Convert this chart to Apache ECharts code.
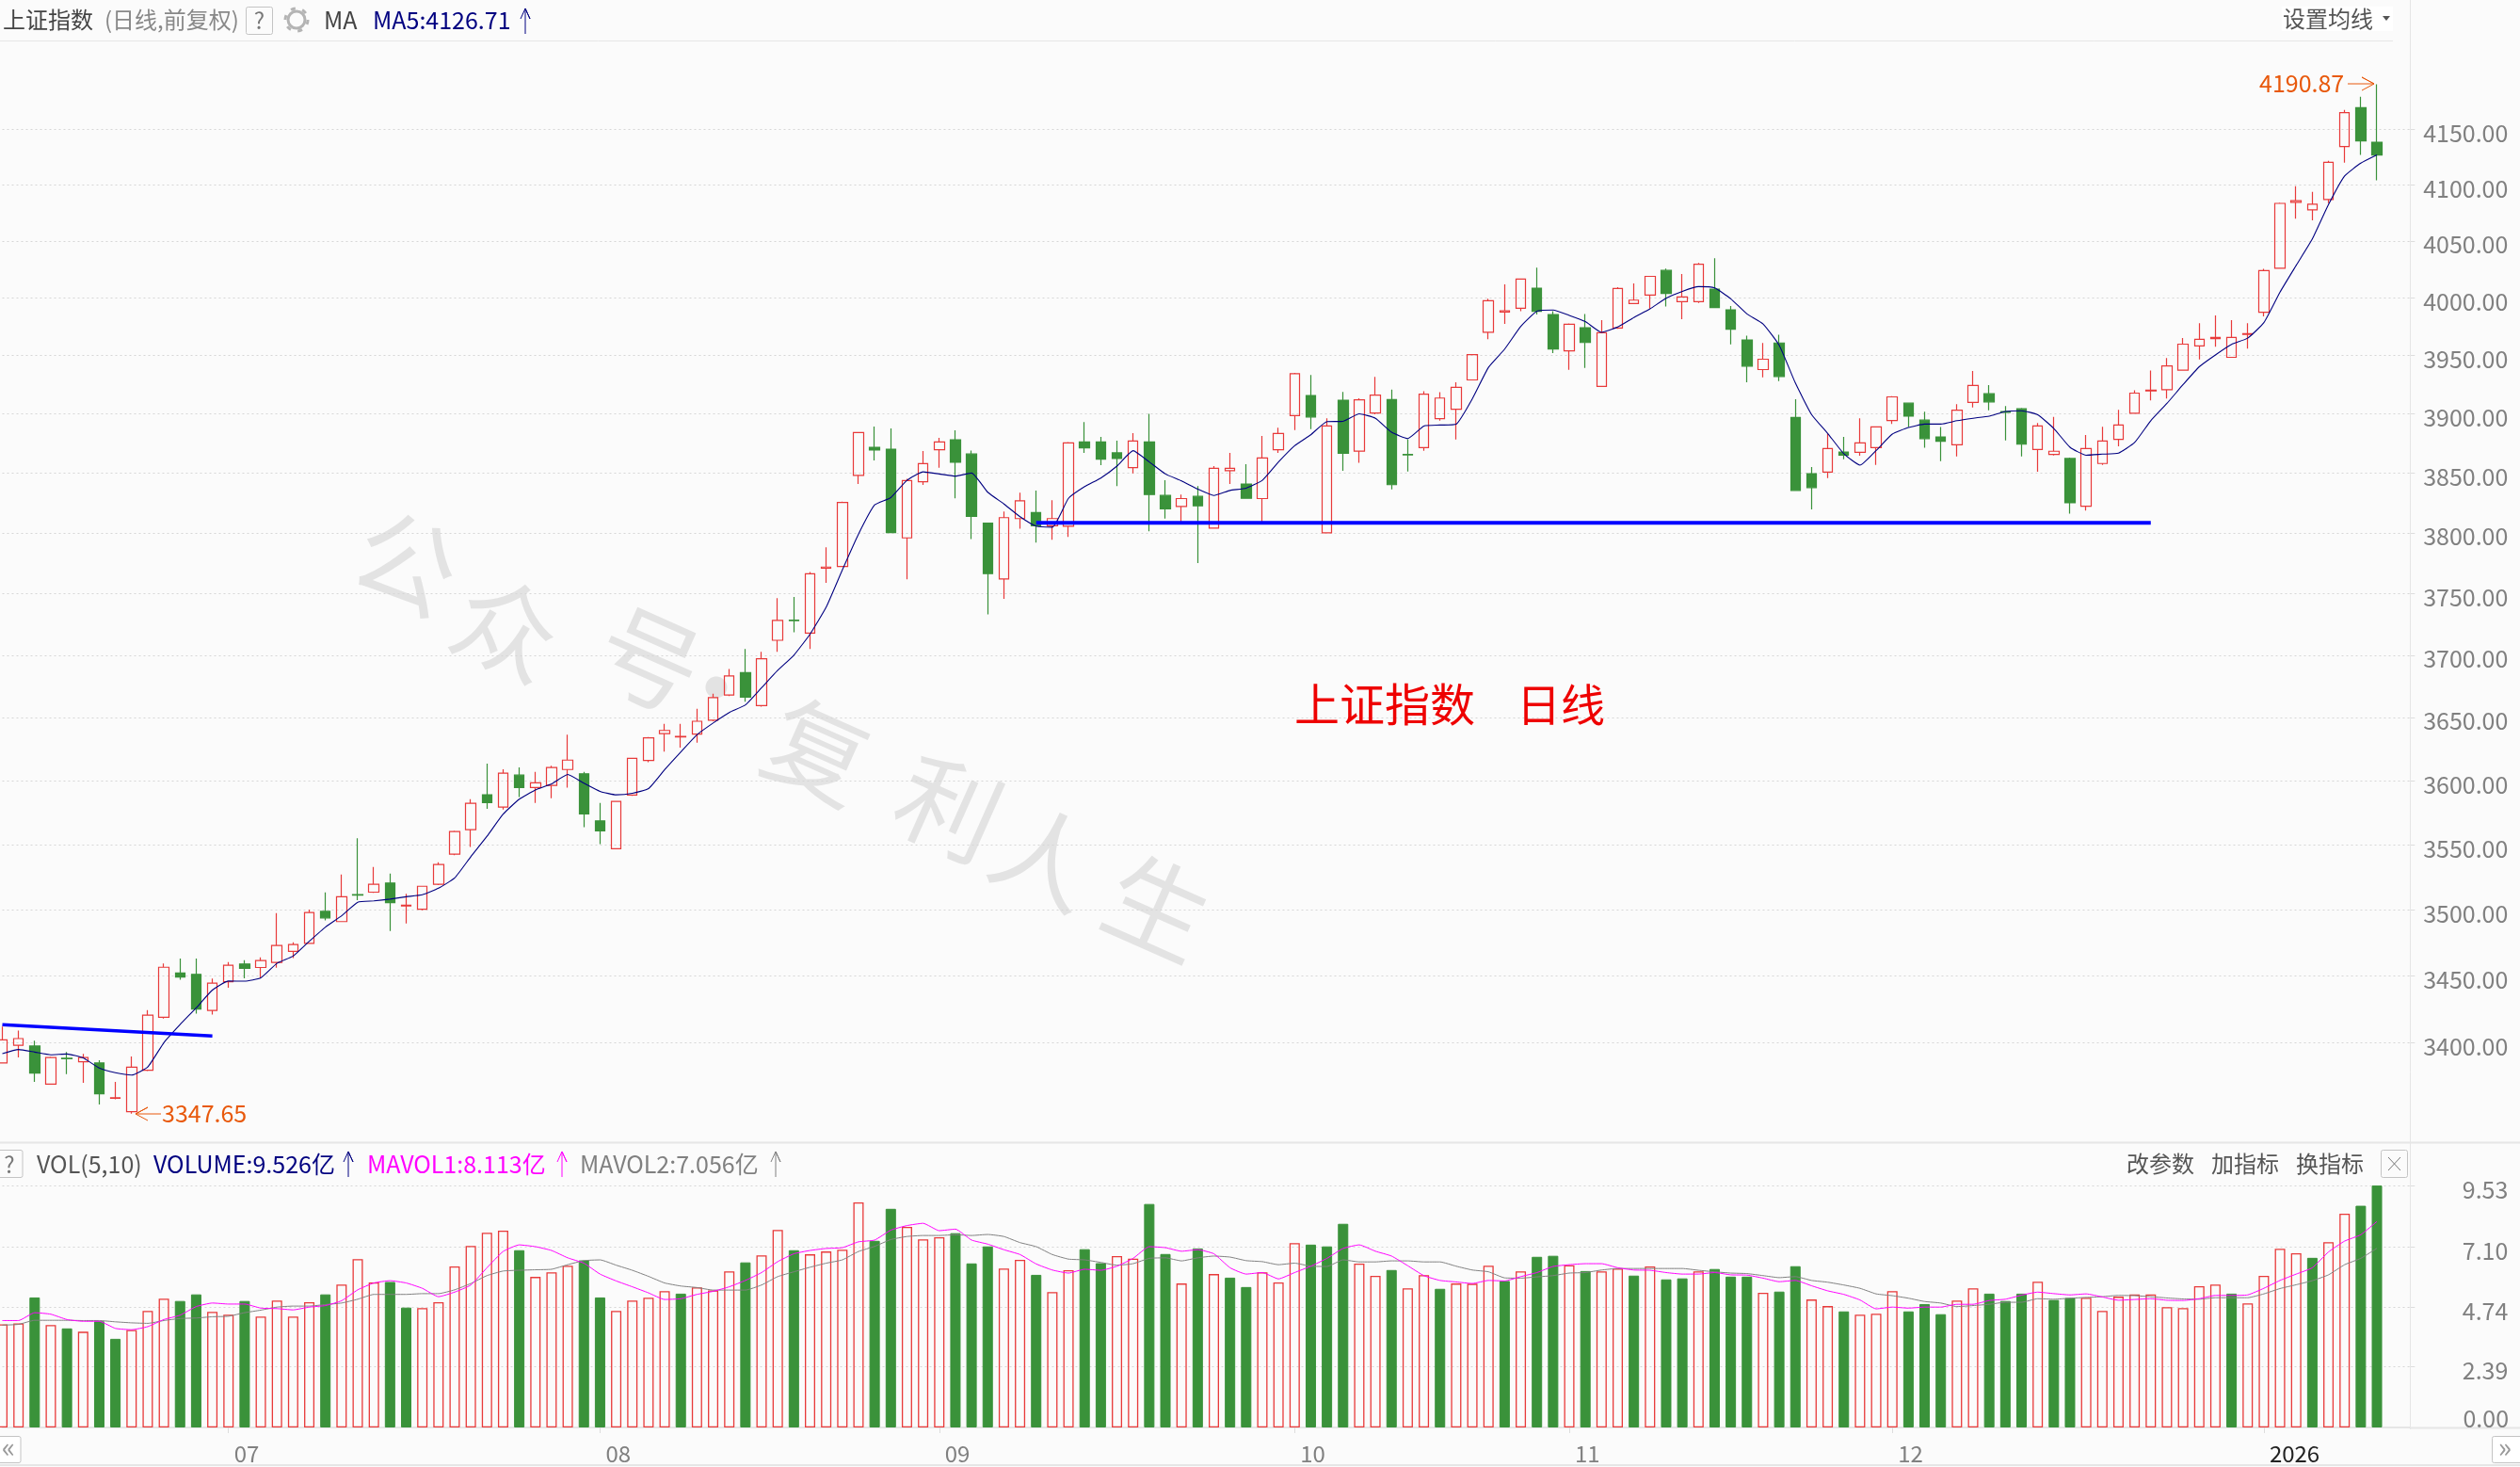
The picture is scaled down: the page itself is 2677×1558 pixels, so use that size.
<!DOCTYPE html>
<html>
<head>
<meta charset="utf-8" />
<title>上证指数 日线</title>
<script src="https://cdn.jsdelivr.net/npm/echarts@6/dist/echarts.min.js"></script>
<style>
html, body { margin: 0; padding: 0; background: #fbfbfb; overflow: hidden; }
#main { width: 2677px; height: 1558px; }
</style>
</head>
<body>
<div id="main"></div>
<script type="text/javascript">
// values, one entry per trading day
var openPrice = [
3385,3398,3397.5,3369.4,3388.4,3385.8,3384.9,3359,3349.2,3379.6,
3418.8,3452,3451,3424,3445.5,3458.8,3456.2,3460,3468.4,3474.5,
3498.8,3491,3511.6,3513.5,3520.5,3503,3500.5,3519.5,3542.7,3561.8,
3589,3579.4,3604.4,3594.6,3596.3,3608.8,3605.4,3568.6,3547,3588.7,
3615.9,3637.2,3634.5,3636.8,3647.8,3667.9,3685.9,3659.5,3712,3728.4,
3717.9,3770.8,3772.3,3848,3871.7,3870.1,3795.9,3842.6,3869.6,3878,
3866,3808.2,3762,3811.9,3816.9,3806,3805.5,3876.2,3876.2,3867,
3854.5,3876.2,3831.2,3822,3830.4,3804,3852,3840.7,3828.6,3869.6,
3898.5,3915.6,3800,3911.6,3868.4,3900.8,3912.2,3865.6,3871.4,3896,
3904,3929,3970,3987.7,3991,4008.5,3985.5,3954,3974,3923.5,
3973.8,3995,4002.5,4024,3996.7,3996.7,4007.6,3989.6,3963.4,3937.9,
3960.8,3897,3849.5,3850.8,3867.7,3867.4,3871.4,3894.4,3909.1,3894.7,
3880.4,3873.8,3909.7,3917.2,3901.9,3904.3,3869.8,3865.6,3862.2,3822.2,
3858,3878.3,3900.5,3919.6,3920.7,3937.4,3958.2,3964.5,3948.4,3968.3,
3987.4,4026,4084.2,4077.5,4086.7,4134.3,4169.4,4138.2];
var closePrice = [
3402,3403,3377.5,3389,3388,3388.9,3362.2,3359.4,3381.9,3420.4,
3456.4,3449,3425,3444.4,3457.9,3455.5,3461.4,3472.9,3473.6,3497.9,
3493.8,3510,3511.2,3519.5,3505.5,3503.5,3518,3534.7,3560.3,3582.3,
3582.8,3605.9,3594.6,3598.3,3610.3,3616.2,3574,3560.8,3583.8,3617.6,
3633.8,3639.7,3635,3647,3665.9,3683.3,3666.2,3697,3728.2,3728,
3766.2,3771.8,3825.4,3884.1,3869.3,3800.3,3843.6,3857.9,3876.2,3859,
3813.8,3766.4,3812.7,3826.7,3806,3811.9,3875.4,3871.2,3861.6,3862.2,
3877,3832,3820,3828.6,3822.5,3854,3854,3828.8,3862.7,3883.3,
3934.4,3897.4,3889.7,3866.6,3912,3916,3840.2,3865.3,3916.8,3913.5,
3922.6,3950.8,3997.5,3988.8,4016.4,3988.3,3955.6,3977,3961.2,3969.7,
4008.2,3998,4018.8,4003.8,4000.8,4029.5,3991.5,3972.8,3940.9,3946.8,
3932,3835.4,3837.8,3870.6,3865,3875.4,3888.9,3914.5,3898.1,3879,
3876.7,3903.2,3924.2,3910.2,3901.4,3874.3,3889.7,3868.3,3825.1,3870.6,
3877,3890.5,3917.7,3920.2,3941.1,3959.8,3964,3965.6,3965.6,3968.9,
4023.8,4083.3,4085.8,4082.5,4120,4164.9,4139.3,4126.7];
var lowPrice = [
3385,3389,3371,3369,3376.8,3370.3,3354.5,3358.2,3347.65,3379,
3417.9,3447,3421.6,3420.9,3441,3448,3448.4,3456,3463.3,3474,
3491.9,3490.9,3507.4,3513,3483.8,3489.6,3499.7,3519,3542,3548.3,
3578,3577.4,3587.2,3582.6,3586.3,3594.6,3563.7,3550.5,3547,3588,
3614.5,3622.9,3626,3629.9,3647,3667,3662.6,3658.7,3702.6,3718.5,
3705,3758.8,3772,3840.7,3860.6,3800,3761.8,3840,3854.5,3828.8,
3794.9,3733,3745.8,3803.4,3792,3794.4,3796.7,3866.9,3856.6,3839,
3849.7,3801.3,3812,3808,3775,3804,3840.7,3828.5,3808,3866.9,
3886.2,3887,3800,3851.9,3858.6,3899.7,3836.2,3851.3,3868.8,3894.2,
3878.3,3929,3964,3977.3,3988.3,3985.5,3952,3937.6,3939.3,3923,
3973,3994.8,3990.7,3992.4,3981.4,3995.6,3991.2,3959.6,3927,3931.2,
3928,3835,3819.6,3845.8,3861.6,3864.5,3856.9,3891.5,3888.9,3871.3,
3860,3864,3905.4,3903,3877.5,3864,3851,3864.8,3816,3818.5,
3856.9,3872.5,3900.3,3911.5,3913,3936.8,3946.5,3957.6,3948,3956,
3983.9,4026,4069.7,4068.3,4083.6,4119.7,4126.7,4104];
var highPrice = [
3412,3409,3401.4,3389.6,3393,3391.6,3387,3371,3389.8,3424.2,
3459.3,3463,3463,3447.9,3460.3,3461.7,3463.8,3497.4,3475.3,3500.2,
3513.3,3527,3555,3532.8,3527.7,3512.2,3518,3536.4,3561,3585.5,
3613.5,3609,3610.5,3606.9,3611.8,3636.3,3606.9,3582.6,3584,3618,
3634.5,3645,3645,3657,3669,3688.9,3705,3702.6,3746.2,3747.2,
3767.7,3788,3826,3884.5,3889.2,3887.6,3845.2,3868.5,3879.6,3886,
3869,3808.2,3817.7,3833.6,3835.2,3827.2,3876,3893,3880.4,3877.2,
3883.6,3900,3843.9,3832,3839,3855.8,3867,3857.4,3881.2,3888.3,
3935,3933.3,3896.3,3918.8,3913.2,3931.6,3920.8,3878.4,3919.4,3918.6,
3926.9,3951,3999.2,4011.7,4017,4026.5,3988.3,3977.8,3986,3980.6,
4009.3,4012.6,4019,4025.7,4020.8,4030.6,4034.7,3992.9,3967.2,3960.8,
3968,3912.4,3855,3883,3880.4,3896.3,3889,3915,3909.5,3901.9,
3888.9,3908.3,3936.6,3924.5,3906.7,3905,3892.3,3897.4,3863,3882,
3889,3903.5,3920.2,3937,3947.8,3965,3978,3984.7,3980.6,3978,
4025.4,4084,4098.6,4093.6,4121.4,4167.4,4179.5,4190.87];
var ma5 = [
3391.8,3394.9,3393,3391,3391.6,3388.7,3381.2,3377.7,3376,3382,
3400,3413.4,3425.9,3439.2,3446,3445.9,3448.4,3459.3,3464.8,3476,
3486.8,3495.4,3505.8,3506.8,3508.2,3510,3511.5,3516.5,3524.4,3540.8,
3556.6,3573.8,3585.5,3592.7,3597.5,3604.9,3598,3591.6,3588.9,3590.1,
3593.8,3608.7,3622.7,3636.3,3645.6,3654,3660,3673.8,3687.7,3700,
3717,3738.9,3769.4,3799,3823.3,3829.4,3843.9,3851,3849.2,3847.4,
3850,3833.9,3824.1,3813.5,3805.6,3804.8,3828.8,3838.6,3845.8,3855.8,
3868.8,3859.3,3849.2,3843.4,3836.5,3831.2,3835.4,3837.3,3843.9,3859.3,
3873,3882.3,3893.4,3893.7,3900,3896.3,3884.4,3879.1,3889.7,3890.5,
3891.3,3912.9,3939.8,3955.5,3975.1,3988.3,3989.4,3984.7,3979.3,3970,
3974.6,3982.8,3990.4,3999.7,4005.7,4009.8,4008.7,3999.2,3986,3977.3,
3958.8,3926.3,3899.5,3883.4,3866.2,3856.6,3869,3882.8,3888.4,3891.3,
3891.3,3894.2,3896.3,3898.1,3902.1,3902.7,3899.2,3887.6,3871.7,3865,
3865.9,3866.7,3875.7,3894.2,3908.9,3925,3940.3,3950.5,3959.6,3965,
3978.4,4005,4028.4,4051.7,4082.2,4107.8,4119.3,4126.71];
var volume = [
4.06,4.1,5.12,4.03,3.9,3.77,4.18,3.49,3.84,4.59,
5.07,4.98,5.24,4.55,4.44,4.98,4.37,5,4.37,4.93,
5.24,5.63,6.63,5.71,5.73,4.72,4.7,4.93,6.34,7.15,
7.67,7.75,6.98,5.93,6.11,6.37,6.58,5.12,4.59,5,
5.11,5.37,5.27,5.52,5.4,6.15,6.5,6.78,7.78,6.98,
6.82,6.93,7,8.86,7.35,8.61,7.9,7.41,7.49,7.65,
6.46,7.13,6.26,6.6,6.01,5.33,6.19,7.02,6.47,6.75,
6.65,8.8,6.83,5.67,7.05,6.04,5.9,5.53,6.11,5.71,
7.26,7.2,7.13,8.02,6.45,5.97,6.2,5.48,6,5.46,
5.67,5.66,6.37,5.77,6.15,6.72,6.76,6.39,6.16,6.15,
6.26,5.98,6.34,5.83,5.87,6.15,6.24,5.94,5.94,5.3,
5.35,6.35,5.04,4.78,4.57,4.44,4.48,5.37,4.57,4.86,
4.46,5,5.48,5.27,4.98,5.27,5.74,5.02,5.1,5.11,
4.59,5.15,5.24,5.24,4.74,4.7,5.56,5.63,5.27,4.89,
5.97,7.04,6.86,6.68,7.3,8.42,8.73,9.526];
var downVolumeDays = [2,4,6,7,11,12,15,20,24,25,32,36,37,42,46,49,54,55,59,60,61,64,67,68,71,72,74,76,77,
81,82,83,86,89,93,95,96,98,101,103,104,106,107,108,110,111,114,118,119,120,123,124,125,127,128,138,143,146,147];
var mavol1 = [
4.21,4.21,4.52,4.46,4.25,4.18,4.18,3.9,3.85,3.97,
4.25,4.42,4.76,4.9,4.86,4.86,4.7,4.68,4.63,4.74,
4.8,4.99,5.42,5.69,5.78,5.69,5.48,5.15,5.33,5.61,
6.29,6.93,7.19,7.12,6.97,6.68,6.47,6.04,5.77,5.54,
5.3,5.04,5.07,5.24,5.36,5.54,5.79,6.1,6.53,6.84,
6.97,7.05,7.08,7.31,7.38,7.77,7.95,8.04,7.75,7.81,
7.38,7.22,7,6.81,6.44,6.2,6.08,6.23,6.19,6.35,
6.66,7.12,7.08,6.94,7,6.84,6.29,6.04,6.1,5.85,
6.1,6.35,6.66,7.05,7.19,6.94,6.75,6.37,5.98,5.79,
5.73,5.67,5.79,5.77,5.94,6.1,6.34,6.41,6.45,6.45,
6.29,6.2,6.19,6.1,6.04,6.04,6.1,6.01,6,5.88,
5.74,5.79,5.58,5.38,5.24,5.02,4.67,4.74,4.7,4.74,
4.74,4.85,4.85,5,5.05,5.21,5.33,5.27,5.22,5.26,
5.14,5.01,5.04,5.07,5.01,5,5.07,5.2,5.2,5.22,
5.48,5.79,6.04,6.29,6.91,7.34,7.59,8.113];
var mavol2 = [
4.03,4.06,4.22,4.22,4.22,4.21,4.21,4.16,4.12,4.1,
4.21,4.29,4.31,4.36,4.38,4.52,4.62,4.74,4.78,4.78,
4.84,4.9,5.05,5.24,5.24,5.24,5.27,5.27,5.42,5.67,
5.98,6.16,6.19,6.21,6.23,6.41,6.57,6.6,6.39,6.19,
5.95,5.69,5.57,5.51,5.41,5.41,5.41,5.61,5.94,6.13,
6.31,6.47,6.6,6.93,7.13,7.4,7.52,7.56,7.56,7.59,
7.56,7.6,7.52,7.28,7.12,6.81,6.63,6.6,6.5,6.39,
6.45,6.66,6.68,6.56,6.68,6.75,6.71,6.57,6.53,6.41,
6.47,6.35,6.34,6.6,6.52,6.52,6.56,6.56,6.52,6.52,
6.35,6.2,6.13,5.89,5.88,5.93,5.98,6.08,6.1,6.2,
6.26,6.26,6.26,6.26,6.26,6.19,6.13,6.08,6.06,5.98,
5.9,5.94,5.79,5.72,5.61,5.48,5.26,5.19,5.09,4.96,
4.9,4.76,4.8,4.85,4.93,4.93,5.07,5.05,5.09,5.12,
5.15,5.2,5.19,5.15,5.1,5.06,5.05,5.11,5.11,5.11,
5.26,5.47,5.62,5.78,6.01,6.41,6.66,7.056];
var priceTicks = [3400,3450,3500,3550,3600,3650,3700,3750,3800,3850,3900,3950,4000,4050,4100,4150];
var volumeTicks = [0,2.39,4.74,7.10,9.53];
var volumeLabels = [2.39,4.74,7.10,9.53];
var monthTicks = {14:'07',37:'08',58:'09',80:'10',97:'11',117:'12',140:'2026'};
var trendLeft = [[0,3413.3],[13,3405]];
var supportLine = [[64,3808.4],[133,3808.4]];

var FONT = '"Noto Sans CJK SC", "Noto Sans", sans-serif';
var RED = '#e83a3a', GREEN = '#3a923a', NAVY = '#000080';

// two empty days on the right so the plot reaches the price axis
var days = [];
for (var d = 0; d < 150; d++) days.push(String(d));

var candles = openPrice.map(function (o, i) {
	return [o, closePrice[i], lowPrice[i], highPrice[i]];
});
var volumeBars = volume.map(function (v, i) {
	var down = downVolumeDays.indexOf(i) >= 0;
	return {
		value: v,
		itemStyle: down
			? { color: GREEN, borderColor: GREEN, borderWidth: 1 }
			: { color: 'transparent', borderColor: RED, borderWidth: 1.3 }
	};
});

function label(text, x, y, color, size, align) {
	return {
		type: 'text', x: x, y: y, z: 50,
		style: {
			text: text, fill: color, fontSize: size || 24, fontFamily: FONT,
			align: align || 'left', verticalAlign: 'middle'
		}
	};
}
function rule(x1, y1, x2, y2, color, width) {
	return {
		type: 'line', z: 40,
		shape: { x1: x1, y1: y1, x2: x2, y2: y2 },
		style: { stroke: color || '#e6e6e6', lineWidth: width || 1 }
	};
}
function frame(x, y, w, h, fill) {
	return {
		type: 'rect', z: 41,
		shape: { x: x, y: y, width: w, height: h, r: 2 },
		style: { fill: fill || 'transparent', stroke: '#c4c4c4', lineWidth: 1 }
	};
}
function upArrow(x, y1, y2, color) {
	return {
		type: 'polyline', z: 50,
		shape: { points: [[x - 5, y1 + 11], [x, y1], [x + 5, y1 + 11], [x, y1], [x, y2]] },
		style: { stroke: color, lineWidth: 1, fill: null }
	};
}
function sideArrow(x1, x2, y, color) {
	var s = x2 > x1 ? -1 : 1;
	return {
		type: 'polyline', z: 50,
		shape: { points: [[x1, y], [x2, y], [x2 + s * 13, y - 7], [x2, y], [x2 + s * 13, y + 7]] },
		style: { stroke: color, lineWidth: 1, fill: null }
	};
}
function stamp(ch, x, y) {
	return {
		type: 'text', x: x, y: y, z: -1, rotation: -24 * Math.PI / 180,
		style: {
			text: ch, fill: '#e3e3e3', fontSize: 108, fontFamily: FONT,
			align: 'center', verticalAlign: 'middle'
		}
	};
}

var graphics = [
	// watermark
	stamp('公', 432, 597), stamp('众', 538, 667), stamp('号', 690, 700), stamp('·', 761, 730),
	stamp('复', 869, 798), stamp('利', 1008, 858), stamp('人', 1110, 910), stamp('生', 1230, 964),
	// panel rules
	rule(0, 43.5, 2542, 43.5), rule(0, 1213.5, 2677, 1213.5, '#e6e6e6', 2),
	rule(2560.5, 0, 2560.5, 1518), rule(2561, 1516.5, 2677, 1516.5, '#e6e6e6', 2),
	rule(0, 1556, 2677, 1556, '#e6e6e6', 2),
	// header
	label('上证指数', 3, 21, '#444444'),
	label('(日线,前复权)', 111, 21, '#888888'),
	frame(261.5, 7.5, 28, 29),
	label('?', 275.5, 22, '#777777', 24, 'center'),
	{ type: 'circle', z: 41, shape: { cx: 315, cy: 21, r: 9 }, style: { fill: 'transparent', stroke: '#b4b4b4', lineWidth: 3 } },
	{ type: 'circle', z: 41, shape: { cx: 315, cy: 21, r: 12 }, style: { fill: 'transparent', stroke: '#b4b4b4', lineWidth: 3, lineDash: [5, 7.5] } },
	label('MA', 344, 21, '#444444', 25),
	label('MA5:4126.71', 396, 21, NAVY, 25),
	upArrow(558, 9, 36, NAVY),
	{ type: 'rect', z: 39, shape: { x: 2424, y: 7, width: 118, height: 26 }, style: { fill: '#ffffff' } },
	label('设置均线', 2425, 20, '#555555'),
	{ type: 'polygon', z: 50, shape: { points: [[2531, 17], [2539, 17], [2535, 22]] }, style: { fill: '#555555' } },
	// high and low
	label('4190.87', 2400, 88, '#e8590c', 25),
	sideArrow(2494, 2522, 89, '#e8590c'),
	label('3347.65', 172, 1182, '#e8590c', 25),
	sideArrow(171, 144, 1183, '#e8590c'),
	// note
	label('上证指数', 1375, 748, '#ee0000', 48),
	label('日线', 1611, 748, '#ee0000', 47),
	// volume header
	frame(-2, 1221.5, 26, 29),
	label('?', 10, 1237, '#777777', 24, 'center'),
	label('VOL(5,10)', 39, 1236, '#555555', 25),
	label('VOLUME:9.526亿', 163, 1236, NAVY, 25),
	upArrow(370, 1223, 1250, NAVY),
	label('MAVOL1:8.113亿', 390, 1236, '#ff00ff', 25),
	upArrow(597, 1223, 1250, '#ff00ff'),
	label('MAVOL2:7.056亿', 616, 1236, '#808080', 25),
	upArrow(824, 1223, 1250, '#808080'),
	label('改参数', 2259, 1236, '#555555'),
	label('加指标', 2349, 1236, '#555555'),
	label('换指标', 2439, 1236, '#555555'),
	frame(2529.5, 1221.5, 28, 29),
	rule(2537, 1229, 2550, 1243, '#777777'),
	rule(2550, 1229, 2537, 1243, '#777777'),
	// zero label of the volume axis sits above its line
	label('0.00', 2665, 1506, '#808080', 25, 'right'),
	// scroll buttons
	frame(-2, 1525.5, 24, 28, '#ffffff'),
	label('«', 9, 1537, '#999999', 30, 'center'),
	frame(2647.5, 1525.5, 32, 28, '#ffffff'),
	label('»', 2661, 1537, '#999999', 30, 'center')
];

var myChart = echarts.init(document.getElementById('main'), null, { renderer: 'canvas' });

var option = {
	backgroundColor: '#fbfbfb',
	animation: false,
	textStyle: { fontFamily: FONT },
	grid: [
		{ left: 2.5, width: 2556.84, top: 44, height: 1169, containLabel: false },
		{ left: 2.5, width: 2556.84, top: 1259, height: 257, containLabel: false }
	],
	xAxis: [
		{
			type: 'category', gridIndex: 0, data: days, boundaryGap: false,
			axisLine: { show: false }, axisTick: { show: false }, axisLabel: { show: false }, splitLine: { show: false }
		},
		{
			type: 'category', gridIndex: 1, data: days, boundaryGap: false, offset: 2,
			axisLine: { lineStyle: { color: '#e6e6e6', width: 2 } },
			axisTick: {
				length: 6, lineStyle: { color: '#dddddd' },
				interval: function (i) { return monthTicks[i] != null; }
			},
			axisLabel: {
				margin: 14, fontSize: 24, fontFamily: FONT, align: 'left', padding: [0, 0, 0, 6],
				interval: function (i) { return monthTicks[i] != null; },
				formatter: function (v) { return monthTicks[v] || ''; },
				color: function (v) { return monthTicks[v] === '2026' ? '#222222' : '#808080'; }
			},
			splitLine: { show: false }
		}
	],
	yAxis: [
		{
			type: 'log', logBase: 10, gridIndex: 0, position: 'right', min: 3326.96, max: 4230.2,
			axisLine: { show: false },
			axisTick: { show: true, length: 6, lineStyle: { color: '#dddddd' }, customValues: priceTicks },
			axisLabel: {
				show: true, margin: 105, align: 'right', fontSize: 25, fontFamily: FONT, color: '#808080',
				verticalAlign: 'top', lineHeight: 8,
				customValues: priceTicks,
				formatter: function (v) { return Number(v).toFixed(2); }
			},
			splitLine: { show: true, lineStyle: { color: '#d6d6d6', type: [2, 3] } },
			minorTick: { show: false }, minorSplitLine: { show: false }
		},
		{
			type: 'value', gridIndex: 1, position: 'right', min: 0, max: 9.53,
			axisLine: { show: false },
			axisTick: { show: true, length: 6, lineStyle: { color: '#dddddd' }, customValues: volumeTicks },
			axisLabel: {
				show: true, margin: 105, align: 'right', fontSize: 25, fontFamily: FONT, color: '#808080',
				verticalAlign: 'top', lineHeight: 8,
				customValues: volumeLabels,
				formatter: function (v) { return Number(v).toFixed(2); }
			},
			splitLine: { show: true, lineStyle: { color: '#d6d6d6', type: [2, 3] } }
		}
	],
	series: [
		{
			type: 'candlestick', name: '上证指数', xAxisIndex: 0, yAxisIndex: 0, data: candles,
			barWidth: 11, clip: false,
			itemStyle: { color: 'transparent', color0: GREEN, borderColor: RED, borderColor0: GREEN, borderWidth: 1.2 }
		},
		{
			type: 'line', name: 'MA5', xAxisIndex: 0, yAxisIndex: 0, data: ma5, symbol: 'none', smooth: 0.15,
			lineStyle: { color: NAVY, width: 1.1 }, z: 4
		},
		{
			type: 'line', name: 'trend', xAxisIndex: 0, yAxisIndex: 0, data: trendLeft, symbol: 'none',
			lineStyle: { color: '#0000ff', width: 3.5 }, z: 5
		},
		{
			type: 'line', name: 'support', xAxisIndex: 0, yAxisIndex: 0, data: supportLine, symbol: 'none',
			lineStyle: { color: '#0000ff', width: 4 }, z: 5
		},
		{
			type: 'bar', name: 'VOLUME', xAxisIndex: 1, yAxisIndex: 1, data: volumeBars, barWidth: 11, clip: false
		},
		{
			type: 'line', name: 'MAVOL2', xAxisIndex: 1, yAxisIndex: 1, data: mavol2, symbol: 'none', smooth: 0.15,
			lineStyle: { color: '#808080', width: 1 }, z: 4
		},
		{
			type: 'line', name: 'MAVOL1', xAxisIndex: 1, yAxisIndex: 1, data: mavol1, symbol: 'none', smooth: 0.15,
			lineStyle: { color: '#ff00ff', width: 1 }, z: 5
		}
	],
	graphic: { elements: graphics }
};

myChart.setOption(option);
</script>
</body>
</html>
